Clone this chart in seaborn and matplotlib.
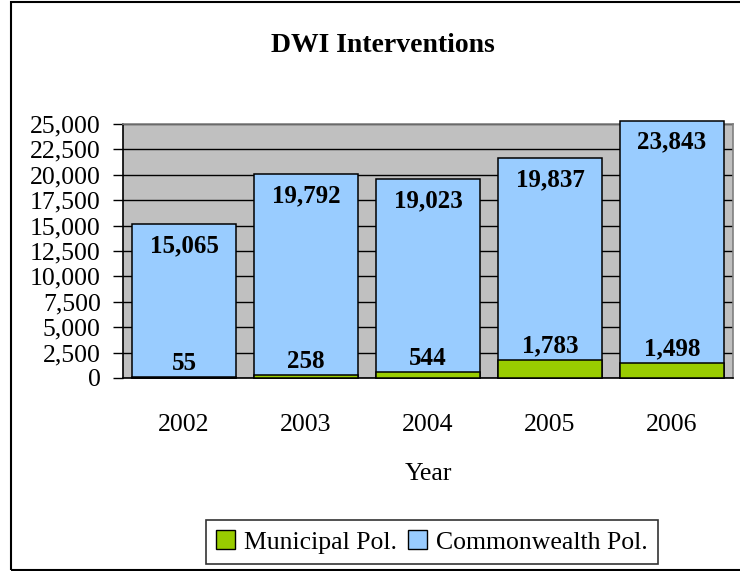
import numpy as np
import pandas as pd
import seaborn as sns
import matplotlib.pyplot as plt
from matplotlib.patches import Rectangle, Patch
from matplotlib.ticker import FuncFormatter, MultipleLocator, FixedLocator

years = ["2002", "2003", "2004", "2005", "2006"]
municipal = [55, 258, 544, 1783, 1498]
commonwealth = [15065, 19792, 19023, 19837, 23843]

BLUE = "#99CCFF"
GREEN = "#99CC00"

df = pd.DataFrame({"Year": years, "Municipal": municipal, "Commonwealth": commonwealth})
df["Total"] = df["Municipal"] + df["Commonwealth"]

sns.set_style("white")
plt.rcParams["font.family"] = ["Liberation Serif", "DejaVu Serif"]
plt.rcParams["text.color"] = "black"
plt.rcParams["axes.labelcolor"] = "black"
plt.rcParams["xtick.color"] = "black"
plt.rcParams["ytick.color"] = "black"

fig = plt.figure(figsize=(7.4, 5.71), dpi=100)
ax = fig.add_axes([123 / 740, 1 - 378 / 571, 610 / 740, 254 / 571])
ax.set_facecolor("#C0C0C0")

sns.barplot(data=df, x="Year", y="Total", color=BLUE, edgecolor="black",
            linewidth=1.1, width=0.845, saturation=1, ax=ax, zorder=3)
sns.barplot(data=df, x="Year", y="Municipal", color=GREEN, edgecolor="black",
            linewidth=1.1, width=0.845, saturation=1, ax=ax, zorder=4)
for p in ax.patches:
    p.set_clip_on(False)

ax.set_ylim(0, 25000)
ax.set_xlim(-0.5, len(years) - 0.5)
ax.yaxis.set_major_locator(MultipleLocator(2500))
ax.yaxis.set_major_formatter(FuncFormatter(lambda v, _: f"{int(v):,}"))
ax.grid(axis="y", color="black", linewidth=1, zorder=0)
ax.set_axisbelow(True)

ax.xaxis.set_minor_locator(FixedLocator(np.arange(-0.5, len(years), 1)))
ax.tick_params(axis="x", which="major", length=0, pad=26, labelsize=18.5)
ax.tick_params(axis="x", which="minor", length=7, width=1, color="black", direction="out")
ax.tick_params(axis="y", length=7, width=1, color="black", direction="out",
               labelsize=18.5, pad=9, left=True)

for s in ["left", "bottom"]:
    ax.spines[s].set_color("black")
    ax.spines[s].set_linewidth(1.2)
for s in ["top", "right"]:
    ax.spines[s].set_color("#808080")
    ax.spines[s].set_linewidth(1.2)

ax.set_xlabel("Year", fontsize=18.5, labelpad=19)
ax.set_ylabel("")

for i, row in df.iterrows():
    ax.annotate(f"{row['Commonwealth']:,}", (i, row["Total"]), xytext=(0, -7),
                textcoords="offset points", ha="center", va="top",
                fontsize=18, fontweight="bold", zorder=6, annotation_clip=False)
    ax.annotate(f"{row['Municipal']:,}", (i, row["Municipal"]), xytext=(0, 2),
                textcoords="offset points", ha="center", va="bottom",
                fontsize=18, fontweight="bold", zorder=6)

fig.text(383 / 740, 1 - 45 / 571, "DWI Interventions", ha="center", va="center",
         fontsize=20, fontweight="bold")

handles = [Patch(facecolor=GREEN, edgecolor="black", label="Municipal Pol."),
           Patch(facecolor=BLUE, edgecolor="black", label="Commonwealth Pol.")]
leg = fig.legend(handles=handles, loc="center", bbox_to_anchor=(432 / 740, 1 - 542 / 571),
                 ncol=2, fontsize=18.5, frameon=True, fancybox=False, handlelength=0.75,
                 handleheight=0.75, handletextpad=0.35, columnspacing=0.4,
                 borderpad=0.4, borderaxespad=0, edgecolor="black")
leg.get_frame().set_linewidth(1.2)

fig.patches.append(Rectangle((11 / 740, 1 / 571), 740, 568 / 571, transform=fig.transFigure,
                             fill=False, edgecolor="black", linewidth=1.5))

fig.savefig("out.png", dpi=100)
